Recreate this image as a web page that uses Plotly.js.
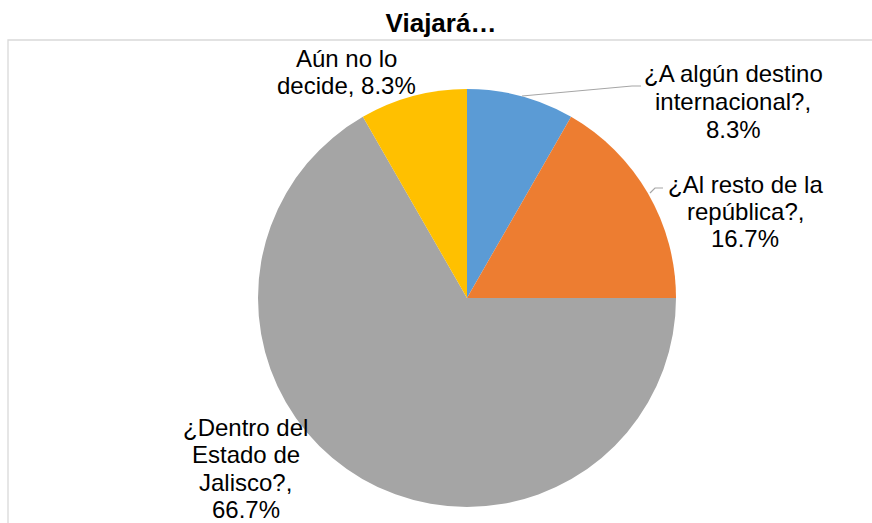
<!DOCTYPE html>
<html>
<head>
<meta charset="utf-8">
<script src="https://cdn.plot.ly/plotly-3.0.1.min.js"></script>
<style>html,body{margin:0;padding:0;background:#fff}#chart{width:872px;height:523px}</style>
</head>
<body>
<div id="chart"></div>
<script>
var categories = ["¿A algún destino internacional?", "¿Al resto de la república?", "¿Dentro del Estado de Jalisco?", "Aún no lo decide"];
var values = [8.3, 16.7, 66.7, 8.3];
var colors = ["#5B9BD5", "#ED7D31", "#A5A5A5", "#FFC000"];
var labelTexts = [
  "¿A algún destino<br>internacional?,<br>8.3%",
  "¿Al resto de la<br>república?,<br>16.7%",
  "¿Dentro del<br>Estado de<br>Jalisco?,<br>66.7%",
  "Aún no lo<br>decide, 8.3%"
];

var W = 872, H = 523;
function px(x){ return x / W; }
function py(y){ return 1 - y / H; }

// center x and first-line center y of each label, in pixels
var labelPos = [[733, 74], [745, 184], [246, 427], [346, 58]];
var lineGap = 27.5;
var font = {family: "Liberation Sans, Arial, sans-serif", size: 24, color: "#000000"};

var annotations = [];
labelTexts.forEach(function(t, i){
  t.split("<br>").forEach(function(line, j){
    annotations.push({text: line, xref: "paper", yref: "paper",
      x: px(labelPos[i][0]), y: py(labelPos[i][1] + j * lineGap),
      xanchor: "center", yanchor: "middle", showarrow: false, font: font, align: "center"});
  });
});

function path(pts){
  return pts.map(function(p, i){ return (i ? "L" : "M") + px(p[0]) + "," + py(p[1]); }).join(" ");
}

var shapes = [
  {type: "path", xref: "paper", yref: "paper", path: path([[8, 523], [8, 40], [872, 40]]),
   line: {color: "#D9D9D9", width: 1.3}},
  {type: "path", xref: "paper", yref: "paper", path: path([[522, 96], [632, 86], [641, 86]]),
   line: {color: "#A6A6A6", width: 1.2}},
  {type: "path", xref: "paper", yref: "paper", path: path([[650, 193], [655, 188], [663, 188]]),
   line: {color: "#A6A6A6", width: 1.2}}
];

var data = [{
  type: "pie",
  labels: categories,
  values: values,
  sort: false,
  direction: "clockwise",
  rotation: 0,
  textinfo: "none",
  hoverinfo: "label+percent",
  marker: {colors: colors, line: {width: 0}},
  domain: {x: [px(258), px(676)], y: [py(507), py(89)]},
  showlegend: false
}];

var layout = {
  width: W, height: H,
  margin: {l: 0, r: 0, t: 0, b: 0},
  paper_bgcolor: "#ffffff",
  title: {text: "<b>Viajará…</b>", xref: "paper", yref: "paper", x: px(441), y: py(23),
          xanchor: "center", yanchor: "middle",
          font: {family: "Liberation Sans, Arial, sans-serif", size: 26, color: "#000000"}},
  annotations: annotations,
  shapes: shapes
};

Plotly.newPlot("chart", data, layout, {displayModeBar: false, staticPlot: true});
</script>
</body>
</html>
